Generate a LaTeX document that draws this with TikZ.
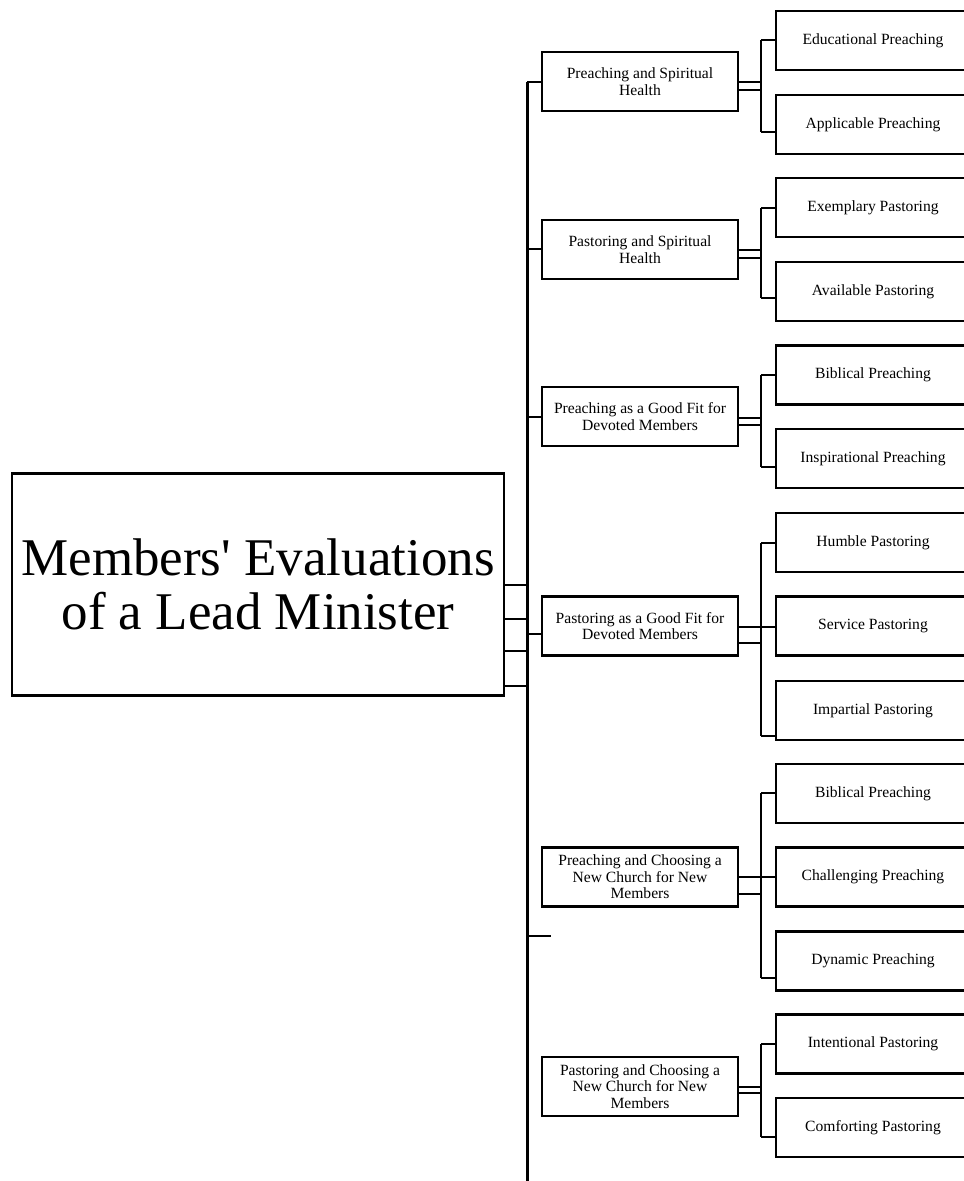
\documentclass[tikz,border=0pt]{standalone}
\usepackage{fontspec}
\setmainfont{Liberation Serif}
\begin{document}
\begin{tikzpicture}[x=1pt,y=-1pt,
  box/.style={draw,line width=2.2pt,rectangle,inner sep=0pt,align=center},
  lone/.style={box,minimum width=196pt,minimum height=59pt,font=\fontsize{15.6}{16.5}\selectfont},
  ltwo/.style={box,minimum width=194pt,minimum height=59pt,font=\fontsize{15.6}{16.5}\selectfont},
  conn/.style={line width=2.2pt},
  dbl/.style={line width=2pt},
  trunk/.style={line width=3pt}]
\useasboundingbox (0,0) rectangle (964,1181);

% root
\node[box,minimum width=492pt,minimum height=222pt,font=\fontsize{53}{54}\selectfont] (root) at (258,584.5)
  {Members\XeTeXglyph\XeTeXcharglyph"27{} Evaluations\\of a Lead Minister};

% level 1
\node[lone] (n1) at (640,81.5) {Preaching and Spiritual\\Health};
\node[lone] (n2) at (640,249.5) {Pastoring and Spiritual\\Health};
\node[lone] (n3) at (640,416.5) {Preaching as a Good Fit for\\Devoted Members};
\node[lone] (n4) at (640,626) {Pastoring as a Good Fit for\\Devoted Members};
\node[lone] (n5) at (640,877) {Preaching and Choosing a\\New Church for New\\Members};
\node[lone] (n6) at (640,1086.5) {Pastoring and Choosing a\\New Church for New\\Members};

% level 2
\node[ltwo] (c11) at (873,40.5) {Educational Preaching};
\node[ltwo] (c12) at (873,124.5) {Applicable Preaching};
\node[ltwo] (c21) at (873,207.5) {Exemplary Pastoring};
\node[ltwo] (c22) at (873,291.5) {Available Pastoring};
\node[ltwo] (c31) at (873,375) {Biblical Preaching};
\node[ltwo] (c32) at (873,458.5) {Inspirational Preaching};
\node[ltwo] (c41) at (873,542.5) {Humble Pastoring};
\node[ltwo] (c42) at (873,626) {Service Pastoring};
\node[ltwo] (c43) at (873,710.5) {Impartial Pastoring};
\node[ltwo] (c51) at (873,793.5) {Biblical Preaching};
\node[ltwo] (c52) at (873,877) {Challenging Preaching};
\node[ltwo] (c53) at (873,961) {Dynamic Preaching};
\node[ltwo] (c61) at (873,1044) {Intentional Pastoring};
\node[ltwo] (c62) at (873,1127.5) {Comforting Pastoring};

% trunk
\coordinate (t1) at (527,82);
\coordinate (t2) at (527,249);
\coordinate (t3) at (527,417);
\coordinate (t4) at (527,634);
\coordinate (t5) at (527,936);
\coordinate (s5) at (551,936);
\coordinate (tend) at (527,1186);
\coordinate (r1) at (527,585);
\coordinate (r2) at (527,619);
\coordinate (r3) at (527,651);
\coordinate (r4) at (527,686);
\draw[trunk] (t1) -- (tend);
\foreach \r in {r1,r2,r3,r4} \draw[conn] (root.east |- \r) -- (\r);
\foreach \t/\n in {t1/n1,t2/n2,t3/n3,t4/n4} \draw[conn] (\t) -- (\n.west |- \t);
\draw[conn] (t5) -- (s5);

% double links from level 1 to junctions
\foreach \n/\ya/\yb in {1/82/90,2/250/258,3/418/425,4/627/643,5/877/894,6/1087/1093}{
  \coordinate (j\n a) at (761,\ya);
  \coordinate (j\n b) at (761,\yb);
  \draw[dbl] (n\n.east |- j\n a) -- (j\n a);
  \draw[dbl] (n\n.east |- j\n b) -- (j\n b);
}

% junctions to children
\foreach \c/\y in {c11/40,c12/132,c21/208,c22/298,c31/375,c32/467,c41/543,c42/627,c43/736,c51/793,c52/877,c53/978,c61/1044,c62/1137}{
  \coordinate (k\c) at (761,\y);
  \draw[conn] (k\c) -- (\c.west |- k\c);
}
\draw[conn] (kc11) -- (kc12);
\draw[conn] (kc21) -- (kc22);
\draw[conn] (kc31) -- (kc32);
\draw[conn] (kc41) -- (kc43);
\draw[conn] (kc51) -- (kc53);
\draw[conn] (kc61) -- (kc62);
\end{tikzpicture}
\end{document}
